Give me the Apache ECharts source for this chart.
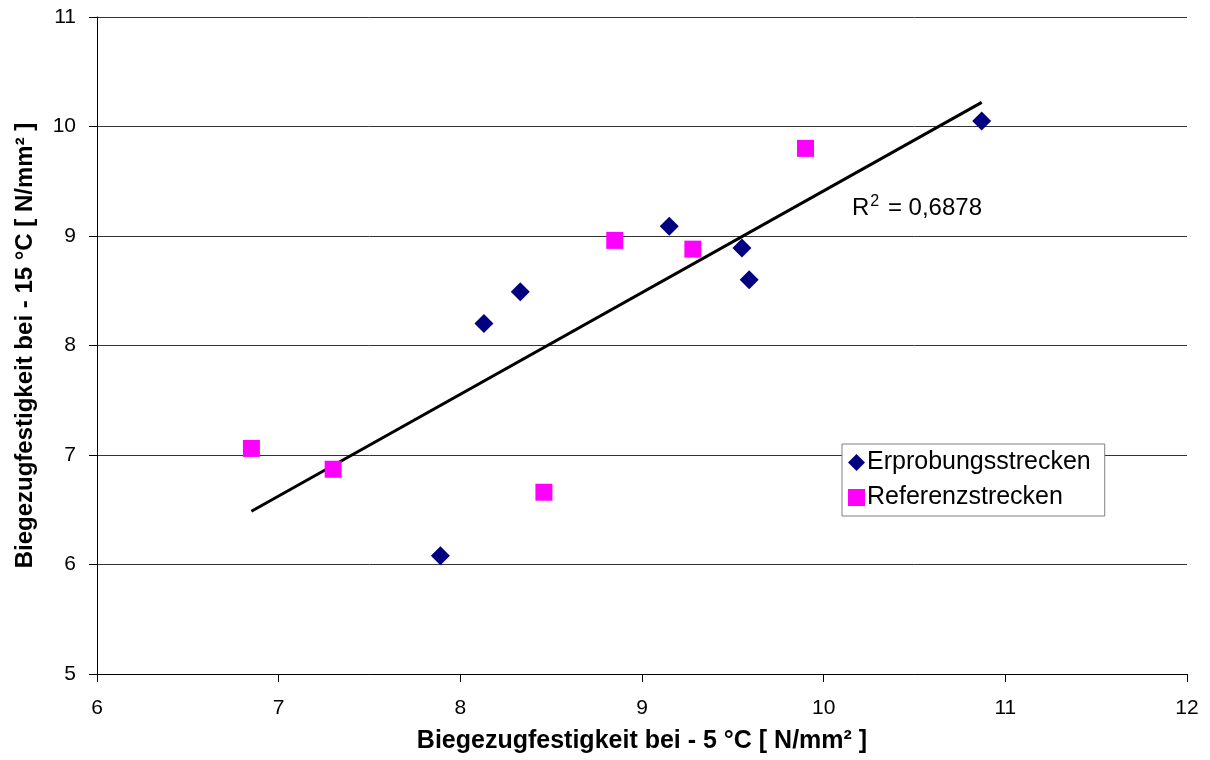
<!DOCTYPE html>
<html>
<head>
<meta charset="utf-8">
<script src="https://cdn.jsdelivr.net/npm/echarts@6/dist/echarts.min.js"></script>
<style>
  html, body { margin: 0; padding: 0; background: #fff; }
  #chart { width: 1210px; height: 760px; }
</style>
</head>
<body>
<div id="chart"></div>
<script>
// Biegezugfestigkeit: -5 °C (x) vs. -15 °C (y), N/mm²
const erprobungX = [7.89, 8.13, 8.33, 9.15, 9.55, 9.59, 10.87];
const erprobungY = [6.08, 8.20, 8.49, 9.09, 8.89, 8.60, 10.05];
const referenzX = [6.85, 7.30, 8.46, 8.85, 9.28, 9.90];
const referenzY = [7.06, 6.87, 6.66, 8.96, 8.88, 9.80];
const seriesNames = ['Erprobungsstrecken', 'Referenzstrecken'];
const rSquaredText = '0,6878';
const xTicks = [6, 7, 8, 9, 10, 11, 12];
const yTicks = [5, 6, 7, 8, 9, 10, 11];

const pairs = (xs, ys) => xs.map((x, i) => [x, ys[i]]);

// Linear least-squares trend over all points, drawn from min to max x
const allX = erprobungX.concat(referenzX);
const allY = erprobungY.concat(referenzY);
const n = allX.length;
const mx = allX.reduce((a, b) => a + b, 0) / n;
const my = allY.reduce((a, b) => a + b, 0) / n;
let sxy = 0, sxx = 0;
for (let i = 0; i < n; i++) {
  sxy += (allX[i] - mx) * (allY[i] - my);
  sxx += (allX[i] - mx) * (allX[i] - mx);
}
const slope = sxy / sxx;
const icpt = my - slope * mx;
const xMin = Math.min(...allX), xMax = Math.max(...allX);
const trend = [[xMin, icpt + slope * xMin], [xMax, icpt + slope * xMax]];

const font = 'Liberation Sans, Arial, sans-serif';
const chart = echarts.init(document.getElementById('chart'));
chart.setOption({
  animation: false,
  backgroundColor: '#fff',
  grid: { left: 97, right: 23, top: 17, bottom: 86, containLabel: false, outerBoundsMode: 'none' },
  xAxis: {
    type: 'value',
    min: xTicks[0], max: xTicks[xTicks.length - 1], interval: 1,
    name: 'Biegezugfestigkeit bei - 5 °C [ N/mm² ]',
    nameLocation: 'middle', nameGap: 55,
    nameTextStyle: { fontFamily: font, fontSize: 25, fontWeight: 'bold', color: '#000' },
    axisLine: { show: true, onZero: false, lineStyle: { color: '#000', width: 1 } },
    axisTick: { show: true, length: 8, lineStyle: { color: '#000' } },
    axisLabel: { margin: 24, fontFamily: font, fontSize: 21, color: '#000' },
    splitLine: { show: false }
  },
  yAxis: {
    type: 'value',
    min: yTicks[0], max: yTicks[yTicks.length - 1], interval: 1,
    name: 'Biegezugfestigkeit bei - 15 °C [ N/mm² ]',
    nameLocation: 'middle', nameGap: 60,
    nameTextStyle: { fontFamily: font, fontSize: 24, fontWeight: 'bold', color: '#000' },
    axisLine: { show: true, onZero: false, lineStyle: { color: '#000', width: 1 } },
    axisTick: { show: true, length: 8, lineStyle: { color: '#000' } },
    axisLabel: { margin: 21, fontFamily: font, fontSize: 21, color: '#000' },
    splitLine: { show: true, lineStyle: { color: '#333', width: 1 } }
  },
  legend: {
    orient: 'vertical',
    left: 842, top: 444,
    padding: [6, 14, 6, 6],
    itemGap: 10,
    itemWidth: 17, itemHeight: 17,
    borderColor: '#808080', borderWidth: 1,
    backgroundColor: '#fff',
    textStyle: { fontFamily: font, fontSize: 25, color: '#000', padding: [0, 0, 0, -3] },
    data: [
      { name: seriesNames[0], icon: 'diamond' },
      { name: seriesNames[1], icon: 'rect' }
    ]
  },
  graphic: [{
    type: 'text',
    left: 852, top: 194,
    style: {
      text: '{r|R}{s|2}{r| = ' + rSquaredText + '}',
      rich: {
        r: { fontFamily: font, fontSize: 24, fill: '#000' },
        s: { fontFamily: font, fontSize: 16, fill: '#000', verticalAlign: 'top', padding: [0, 2, 12, 1] }
      }
    }
  }],
  series: [
    {
      name: 'Trend',
      type: 'line',
      data: trend,
      symbol: 'none',
      lineStyle: { color: '#000', width: 3 },
      silent: true,
      z: 1
    },
    {
      name: seriesNames[0],
      type: 'scatter',
      data: pairs(erprobungX, erprobungY),
      symbol: 'diamond',
      symbolSize: 19,
      itemStyle: { color: '#000080', opacity: 1 },
      z: 3
    },
    {
      name: seriesNames[1],
      type: 'scatter',
      data: pairs(referenzX, referenzY),
      symbol: 'rect',
      symbolSize: 17,
      itemStyle: { color: '#ff00ff', opacity: 1 },
      z: 3
    }
  ]
});
</script>
</body>
</html>
